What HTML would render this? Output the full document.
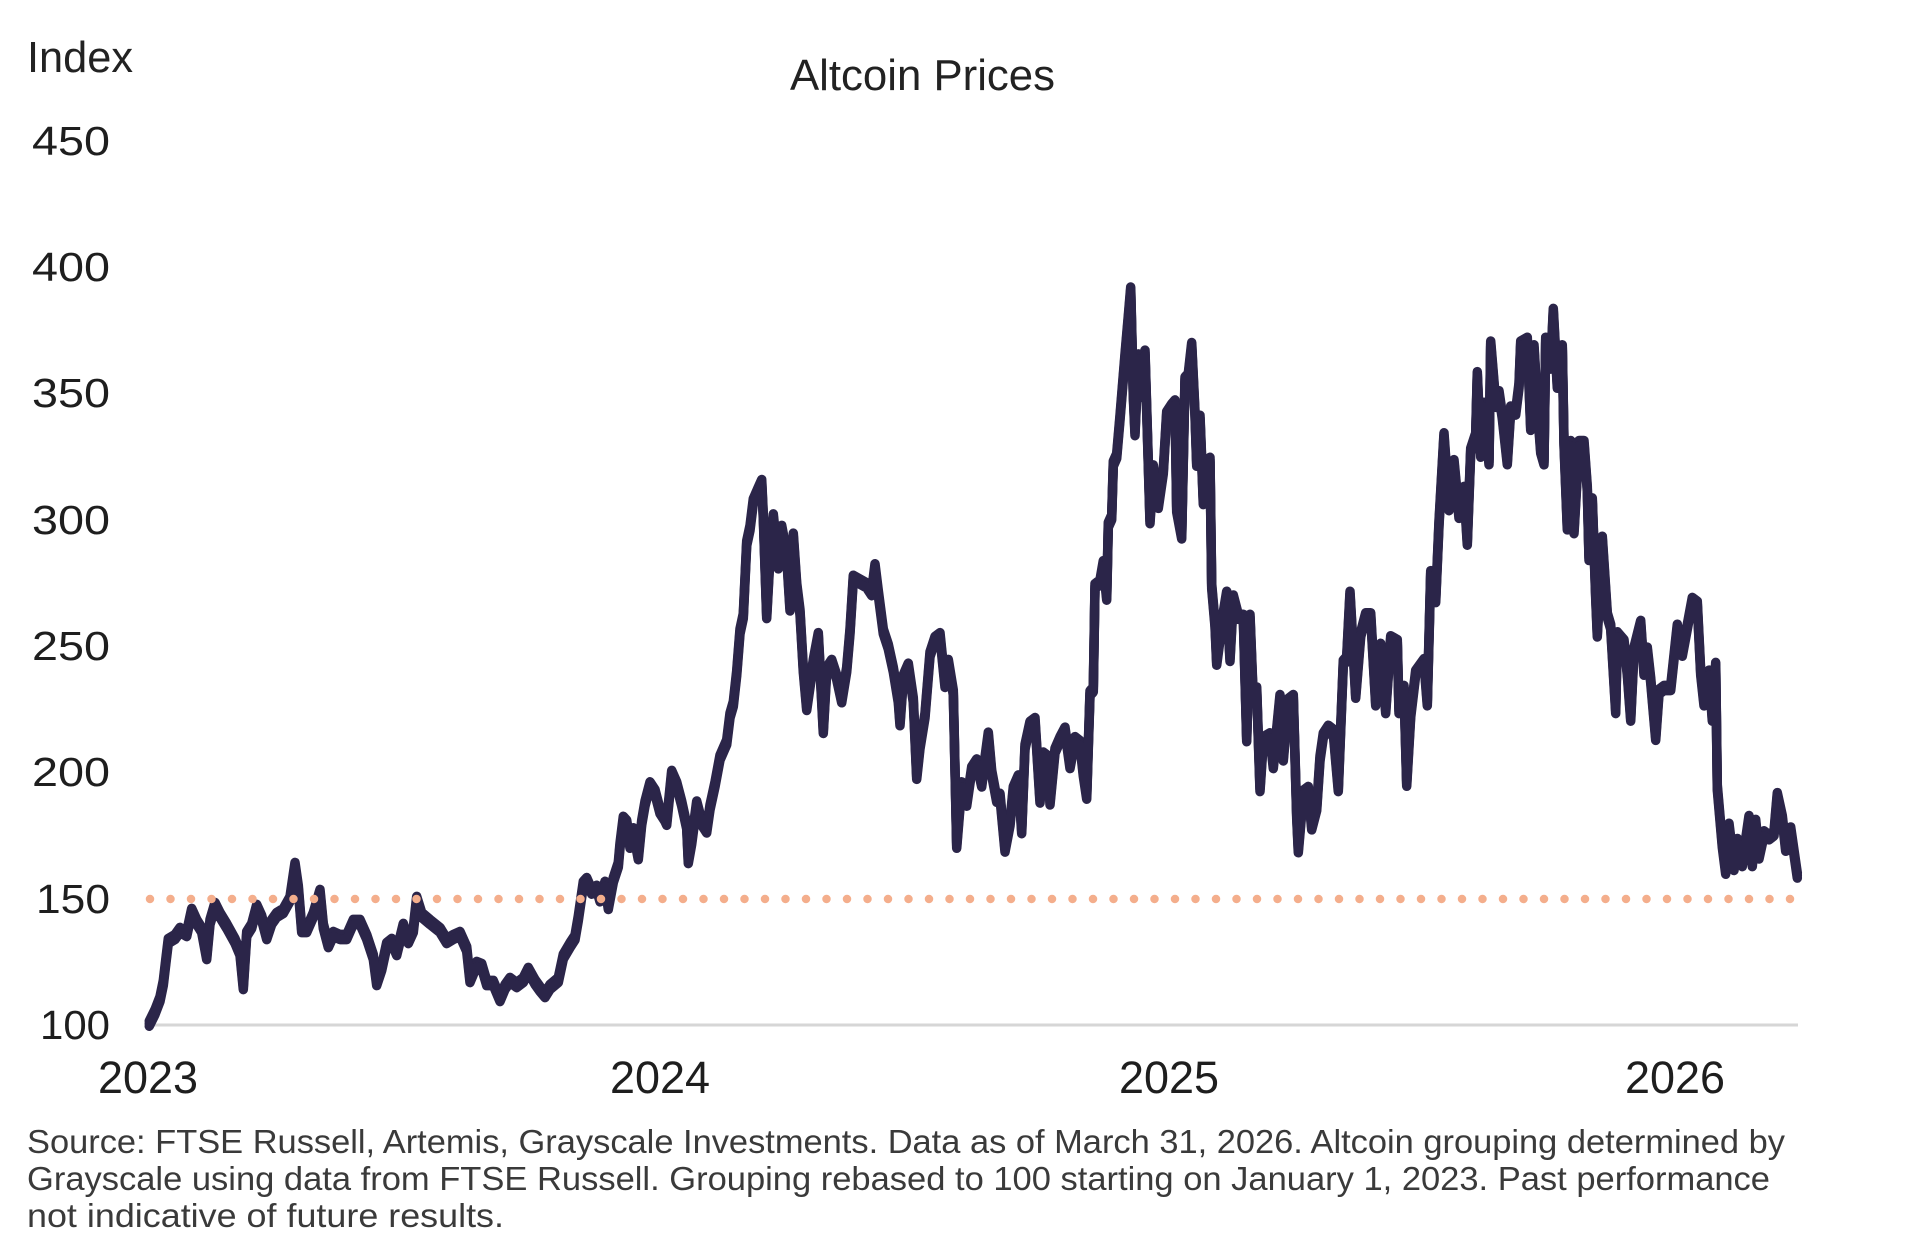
<!DOCTYPE html>
<html>
<head>
<meta charset="utf-8">
<style>
  html,body{margin:0;padding:0;background:#ffffff;}
  svg{display:block;}
  text{font-family:"Liberation Sans",sans-serif;}
</style>
</head>
<body>
<svg width="1914" height="1254" viewBox="0 0 1914 1254" xmlns="http://www.w3.org/2000/svg">
  <defs>
    <polyline id="s" fill="none" points="
149.3,1023.6 155,1012 160,999 163.3,983 166,960 168.3,941 175,937 180,930 186.7,934 191.7,911 196.7,922 201.7,930 206.7,957 210,922 215,905 220,915 226.7,926 235,941 240,953 243.3,987 246.7,934 251.7,926 256.7,907 261.7,918 266.7,937 271.7,922 276.7,915 283.3,911 290,899 295,865 298.3,888 301.7,930 306.7,930 313.3,915 320,892 323.3,926 328.3,945 333.3,934 340,937 346.7,937 353.3,922 360,922 366.7,937 373.3,957 376.7,983 381.7,968 386.7,945 391.7,941 396.7,953 403.3,926 408.3,941 413.3,930 416.7,899 421.7,915 430,922 440,930 446.7,941 453.3,937 460,934 466.7,949 470,980 476.7,964 481.7,966 486.7,983 493.3,983 500,999 505,987 510,980 516.7,985 523.3,980 528.3,970 535,982 540,989 545,995 550,987 558.3,980
563.3,956.6 570,945.2 575,937.5 578.3,918.4 583.3,883.9 586.7,880.1 591.7,891.6 596.7,887.8 600,899.2 605,883.9 608.3,906.9 613.3,880.1 618.3,864.8 620,845.7 623.3,818.9 626.7,822.7 630,845.7 633.3,830.4 638.3,857.1 641.7,822.7 645,803.6 650,784.4 655,792.1 660,811.2 665,818.9 666.7,822.7 671.7,773 676.7,784.4 681.7,803.6 686.7,826.5 688.3,861 691.7,841.8 696.7,803.6 701.7,822.7 706.7,830.4 710,807.4 715,784.4 720,757.6 726.7,742.3 730,715.5 733.3,704.1 736.7,673.4 740,631.4 743.3,616 746.7,543.3 750,528 753.3,501.2 758.3,489.8 761.7,482.1 763.3,516.5 766.7,616 770,554.8 773.3,516.5 778.3,566.3 781.7,528 786.7,554.8 790,608.4 793.3,535.7 796.7,585.4 800,612.2 803.3,669.6 806.7,707.9 813.3,662 818.3,635.2 823.3,730.9 826.7,669.6 831.7,662 836.7,677.3 841.7,700.2 846.7,669.6 850,631.4 853.3,577.8 860,581.6 866.7,585.4 871.7,593.1 875,566.3 878.3,593.1 883.3,631.4 888.3,646.7 893.3,669.6 898.3,700.2 900,723.2 903.3,677.3 908.3,665.8 913.3,700.2 916.7,776.8 920,746.2 925,715.5 930,654.3 935,639 940,635.2 945,684.9 948.3,662 953.3,692.6 956.7,845.7 961.7,784.4 966.7,803.6 971.7,769.1 976.7,761.5 981.7,784.4 988.3,734.7 991.7,772.9 996.7,799.7 1000,795.9 1005,849.5
1010,823.4 1013.3,789 1018.3,777.5 1021.7,831.1 1025,746.9 1030,723.9 1035,720.1 1040,800.5 1043.3,754.6 1048.3,758.4 1050,802.4 1055,750.7 1060,739.2 1065,729.7 1070,766 1075,739.2 1080,743.1 1083.3,773.7 1086.7,796.6 1090,693.3 1093.3,689.5 1095,586.2 1100,582.3 1103.3,563.2 1106.7,597.6 1108.3,524.9 1111.7,517.3 1113.3,463.7 1116.7,456 1120,417.8 1125,356.5 1128.3,318.3 1130.7,289.6 1133.3,394.8 1135,433.1 1138.3,356.5 1141.7,394.8 1145,352.7 1148.3,463.7 1150,521.1 1153.3,467.5 1158.3,505.8 1163.3,471.4 1166.7,413.9 1171.7,406.3 1175,402.5 1176.7,509.6 1181.7,536.4 1185,379.5 1188.3,375.7 1191.7,345.1 1195,413.9 1196.7,463.7 1200,417.8 1203.3,502 1206.7,463.7 1210,459.9 1211.7,586.2 1215,624.4 1216.7,662.7 1221.7,624.4 1226.7,593.8 1230,658.9 1233.3,597.6 1238.3,616.8 1243.3,616.8 1246.7,739.2 1250,616.8 1253.3,701 1256.7,689.5 1260,789 1263.3,739.2 1270,735.4 1273.3,766 1280,697.1 1283.3,758.4 1288.3,701 1293.3,697.1 1296.7,815.8 1298.3,850.2 1303.3,792.8 1308.3,789 1311.7,827.3 1316.7,808.1 1320,758.4 1323.3,735.4 1328.3,727.8 1333.3,731.6 1338.3,789 1343.3,662.7 1346.7,658.9 1350,593.8
1355.7,695.7 1360.7,634.4 1365.7,615.3 1370.7,615.3 1375.7,703.3 1380.7,645.9 1385.7,711 1390.7,638.3 1397.3,642.1 1399,711 1404,688 1406.7,783.7 1410.7,714.8 1415.7,672.7 1424,661.2 1427.3,703.3 1430.7,573.2 1435.7,600 1439,523.4 1444,435.4 1449,508.1 1454,462.2 1459,515.8 1464,489 1467.3,542.6 1470.7,450.7 1475.7,435.4 1477.3,374.2 1480.7,454.6 1484,404.8 1489,462.2 1490.7,343.6 1495.7,404.8 1499,393.3 1502.3,416.3 1507.3,462.2 1510.7,408.6 1515.7,412.5 1519,385.7 1520.7,343.6 1527.3,339.8 1530.7,427.8 1534,347.4 1537.3,404.8 1540.7,450.7 1544,462.2 1545.7,339.8 1550.7,366.5 1553.3,311 1557.3,385.7 1562.3,347.4 1564,443.1 1567.3,527.3 1570.7,443.1 1574,531.1 1579,443.1 1584,443.1 1587.3,489 1589,557.9 1592.3,500.5 1595.7,596.2 1597.3,634.4 1602.3,538.8 1607.3,615.3 1610.7,626.8 1615.7,711 1617.3,634.4 1624,642.1 1627.3,672.7 1630.7,718.6 1634,649.7 1640.7,623 1644,672.7 1647.3,649.7 1650.7,680.4 1655.7,737.8 1659,691.8 1664,688 1670.7,688 1677.3,626.8 1682.3,653.6 1687.3,626.8 1692.3,600 1697.3,603.8 1700.7,672.7 1704,703.3 1709,672.7 1712.3,718.6 1715.7,665 1717.3,787.5 1722.3,844.9 1725.7,871.7 1729,825.8 1734,867.9 1737.3,841.1 1742.3,864 1745.7,841.1 1749,818.1 1752.3,864 1755.7,822 1759,856.4 1764,833.4 1769,837.3 1774,833.4 1777.3,795.2 1782.3,818.1 1785.7,848.7 1790.7,829.6 1794,852.6 1797.3,875.5"/>
  </defs>
  <rect x="0" y="0" width="1914" height="1254" fill="#ffffff"/>

  <!-- Title & axis title -->
  <text x="27" y="72" font-size="44" fill="#222222" textLength="106" lengthAdjust="spacingAndGlyphs">Index</text>
  <text x="790" y="90" font-size="44" fill="#222222" textLength="265" lengthAdjust="spacingAndGlyphs">Altcoin Prices</text>

  <!-- Y labels -->
  <g font-size="41" fill="#1e1e1e" text-anchor="end">
    <text x="110" y="155" textLength="78" lengthAdjust="spacingAndGlyphs">450</text>
    <text x="110" y="281" textLength="78" lengthAdjust="spacingAndGlyphs">400</text>
    <text x="110" y="407" textLength="78" lengthAdjust="spacingAndGlyphs">350</text>
    <text x="110" y="534" textLength="78" lengthAdjust="spacingAndGlyphs">300</text>
    <text x="110" y="660" textLength="78" lengthAdjust="spacingAndGlyphs">250</text>
    <text x="110" y="786" textLength="78" lengthAdjust="spacingAndGlyphs">200</text>
    <text x="110" y="913" textLength="74" lengthAdjust="spacingAndGlyphs">150</text>
    <text x="110" y="1039" textLength="70" lengthAdjust="spacingAndGlyphs">100</text>
  </g>

  <!-- X axis line -->
  <line x1="150" y1="1025" x2="1798" y2="1025" stroke="#d6d6d6" stroke-width="3"/>

  <!-- X labels -->
  <g font-size="45" fill="#1e1e1e" text-anchor="middle">
    <text x="148" y="1093" textLength="100" lengthAdjust="spacingAndGlyphs">2023</text>
    <text x="660" y="1093" textLength="100" lengthAdjust="spacingAndGlyphs">2024</text>
    <text x="1169" y="1093" textLength="100" lengthAdjust="spacingAndGlyphs">2025</text>
    <text x="1675" y="1093" textLength="100" lengthAdjust="spacingAndGlyphs">2026</text>
  </g>

  <!-- Series (thickened band) -->
  <g stroke="#2b2549" stroke-width="9.5" stroke-linejoin="round" stroke-linecap="round" fill="none">
    <use href="#s"/>
    <use href="#s" transform="translate(0,-2.6)"/>
    <use href="#s" transform="translate(0,2.6)"/>
  </g>

  <!-- Dotted reference line at 150 -->
  <line x1="150" y1="899" x2="1792" y2="899" stroke="#f4ae8c" stroke-width="8.5" stroke-linecap="round" stroke-dasharray="0 20.5"/>

  <!-- Footnote -->
  <g font-size="33" fill="#3a3a3a">
    <text x="27" y="1153" textLength="1758" lengthAdjust="spacingAndGlyphs">Source: FTSE Russell, Artemis, Grayscale Investments. Data as of March 31, 2026. Altcoin grouping determined by</text>
    <text x="27" y="1190" textLength="1743" lengthAdjust="spacingAndGlyphs">Grayscale using data from FTSE Russell. Grouping rebased to 100 starting on January 1, 2023. Past performance</text>
    <text x="27" y="1227" textLength="477" lengthAdjust="spacingAndGlyphs">not indicative of future results.</text>
  </g>
</svg>
</body>
</html>
